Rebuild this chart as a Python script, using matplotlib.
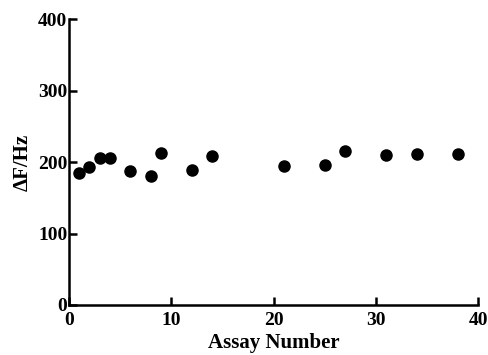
import matplotlib
matplotlib.use('Agg')
import matplotlib.pyplot as plt

# values
assay = [1, 2, 3, 4, 6, 8, 9, 12, 14, 21, 25, 27, 31, 34, 38]
delta_f = [185, 193, 206, 206, 188, 181, 212, 189, 209, 194, 196, 215, 210, 211, 211]

plt.rcParams['font.family'] = 'Liberation Serif'
plt.rcParams['font.weight'] = 'bold'

fig = plt.figure(figsize=(4.88, 3.55), dpi=100)
ax = fig.add_axes([0.141, 0.141, 0.839, 0.805])

ax.scatter(assay, delta_f, s=64, color='black', zorder=3)

ax.set_xlim(0, 40)
ax.set_ylim(0, 400)
ax.set_xticks([0, 10, 20, 30, 40])
ax.set_yticks([0, 100, 200, 300, 400])
# longer tick at the top of the y axis
ax.set_yticks([400], minor=True)

ax.spines['top'].set_visible(False)
ax.spines['right'].set_visible(False)
ax.spines['left'].set_linewidth(1.8)
ax.spines['bottom'].set_linewidth(1.8)
ax.tick_params(direction='in', length=6, width=1.8, labelsize=14)
ax.tick_params(axis='x', pad=5)
ax.tick_params(axis='y', pad=1)
ax.tick_params(axis='y', which='minor', direction='in', length=12, width=1.8)
for lab in ax.get_xticklabels() + ax.get_yticklabels():
    lab.set_fontweight('bold')

ax.set_xlabel('Assay Number', fontsize=15, fontweight='bold', labelpad=3)
ax.set_ylabel('ΔF/Hz', fontsize=15, fontweight='bold', labelpad=4)

fig.savefig('out.png', dpi=100)
